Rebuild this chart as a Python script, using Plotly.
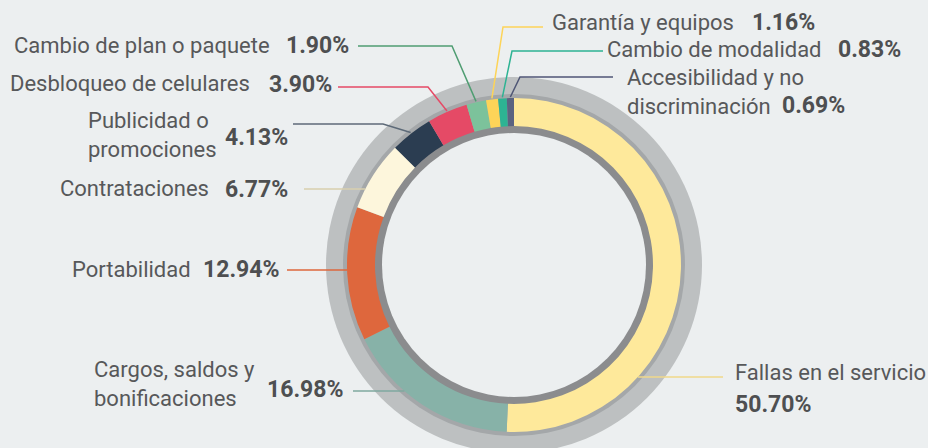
import math
import plotly.graph_objects as go

# ---------------- data ----------------
categories = [
    "Fallas en el servicio",
    "Cargos, saldos y bonificaciones",
    "Portabilidad",
    "Contrataciones",
    "Publicidad o promociones",
    "Desbloqueo de celulares",
    "Cambio de plan o paquete",
    "Garantía y equipos",
    "Cambio de modalidad",
    "Accesibilidad y no discriminación",
]
values = [50.70, 16.98, 12.94, 6.77, 4.13, 3.90, 1.90, 1.16, 0.83, 0.69]
label_texts = [
    "Fallas en el servicio",
    "Cargos, saldos y<br>bonificaciones",
    "Portabilidad",
    "Contrataciones",
    "Publicidad o<br>promociones",
    "Desbloqueo de celulares",
    "Cambio de plan o paquete",
    "Garantía y equipos",
    "Cambio de modalidad",
    "Accesibilidad y no<br>discriminación",
]
pct_texts = [f"{v:.2f}%" for v in values]

# ---------------- style ----------------
W, H = 928, 448
BG = "#eceff0"
TXT = "#57585a"
PCT = "#4e4f51"
FONT = "Roboto"
LABEL_SIZE = 22
PCT_SIZE = 23
slice_colors = ["#fee99b", "#87b2a8", "#de673d", "#fdf6dc", "#2b3d51",
                "#e54a66", "#7cc29b", "#fdd458", "#2db393", "#5b6380"]
line_colors = ["#f0d98a", "#7fa99f", "#de673d", "#d8cfae", "#5d6a78",
               "#e54a66", "#4f9d72", "#fdd458", "#2db393", "#4f5675"]

CX, CY = 514, 265          # donut centre (px, from top-left)
R_OUT, R_IN = 167, 139     # coloured ring
R_EDGE = 171               # darker edge band
R_GRAY = 188               # outer gray ring
R_INNER_RING = 132         # inner dark ring inner radius


def px(x):
    return x / W


def py(y):
    return 1 - y / H


fig = go.Figure()

fig.add_trace(go.Pie(
    labels=categories,
    values=values,
    sort=False,
    direction="clockwise",
    rotation=0,
    hole=R_IN / R_OUT,
    marker=dict(colors=slice_colors, line=dict(width=0)),
    textinfo="none",
    hoverinfo="label+percent",
    showlegend=False,
    domain=dict(x=[px(CX - R_OUT), px(CX + R_OUT)],
                y=[py(CY + R_OUT), py(CY - R_OUT)]),
))

shapes = []


def circle(r, color):
    shapes.append(dict(type="circle", xref="paper", yref="paper", layer="below",
                       x0=px(CX - r), x1=px(CX + r), y0=py(CY + r), y1=py(CY - r),
                       fillcolor=color, line=dict(width=0)))


circle(R_GRAY, "#bdc0c1")
circle(R_EDGE, "#a4a7a9")
circle(R_IN + 1, "#8b8c8e")
circle(R_INNER_RING, BG)

# cumulative mid angles (clockwise from 12 o'clock)
total = sum(values)
mids = []
acc = 0
for v in values:
    mids.append((acc + v / 2) / total * 2 * math.pi)
    acc += v


def ring_point(i, r=R_OUT + 1):
    a = mids[i]
    return CX + r * math.sin(a), CY - r * math.cos(a)


def ring_at_y(y, side):
    dx = math.sqrt(max(R_OUT ** 2 - (y - CY) ** 2, 0))
    return CX + side * dx


# leader lines: (index, y of horizontal, outer x, elbow x or None, side)
leaders = [
    (0, 377, 723, None, 1),
    (1, 391, 353, None, -1),
    (2, 270, 287, None, -1),
    (3, 189, 304, None, -1),
    (4, 124, 293, 383, -1),
    (5, 87, 338, 428, -1),
    (6, 46, 358, 452, -1),
    (7, 27, 543, 503, 1),
    (8, 51, 603, 512, 1),
    (9, 77, 613, 520, 1),
]
for i, ly, xo, xe, side in leaders:
    if xe is None:
        x2 = ring_at_y(ly, side)
        pts = [(xo, ly), (x2, ly)]
    else:
        pts = [(xo, ly), (xe, ly), ring_point(i)]
    path = "M " + " L ".join(f"{px(a):.5f},{py(b):.5f}" for a, b in pts)
    shapes.append(dict(type="path", xref="paper", yref="paper", path=path,
                       line=dict(color=line_colors[i], width=1.5)))

annotations = []


def ann(text, x, y, xanchor, size, color, bold=False, align="left"):
    t = f"<b>{text}</b>" if bold else text
    annotations.append(dict(text=t, x=px(x), y=py(y), xref="paper", yref="paper",
                            xanchor=xanchor, yanchor="middle", showarrow=False,
                            align=align,
                            font=dict(family=FONT, size=size, color=color)))


# label placements: (index, label x, label y, label anchor, pct x, pct y, pct anchor)
places = [
    (0, 733, 372, "left", 733, 404, "left"),
    (1, 92, 384, "left", 265, 389, "left"),
    (2, 193, 269, "right", 201, 269, "left"),
    (3, 211, 188, "right", 223, 189, "left"),
    (4, 86, 135, "left", 223, 137, "left"),
    (5, 252, 83, "right", 267, 84, "left"),
    (6, 272, 46, "right", 284, 46, "left"),
    (7, 550, 23, "left", 750, 23, "left"),
    (8, 605, 49, "left", 836, 49, "left"),
    (9, 625, 92, "left", 780, 106, "left"),
]
for i, lx, ly, la, qx, qy, qa in places:
    ann(label_texts[i], lx, ly, la, LABEL_SIZE, TXT)
    ann(pct_texts[i], qx, qy, qa, PCT_SIZE, PCT, bold=True)

fig.update_layout(
    width=W, height=H,
    margin=dict(l=0, r=0, t=0, b=0),
    paper_bgcolor=BG, plot_bgcolor=BG,
    shapes=shapes,
    annotations=annotations,
    showlegend=False,
)

fig.write_html("out.html",
               config={"displayModeBar": False},
               post_script="document.body.style.margin='0';document.body.style.overflow='hidden';")
